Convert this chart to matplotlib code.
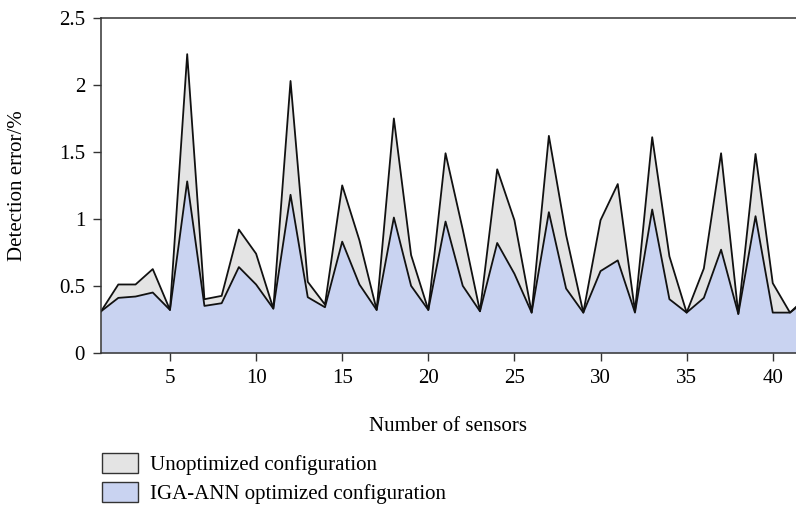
import matplotlib
matplotlib.use("Agg")
import matplotlib.pyplot as plt
from matplotlib.patches import Patch

# valeurs
sensors = list(range(1, 43))
unoptimized = [0.31, 0.51, 0.51, 0.625, 0.32, 2.23, 0.40, 0.425, 0.92, 0.74,
               0.33, 2.03, 0.53, 0.36, 1.25, 0.84, 0.32, 1.75, 0.73, 0.32,
               1.49, 0.92, 0.31, 1.37, 0.99, 0.30, 1.62, 0.88, 0.30, 0.99,
               1.26, 0.31, 1.61, 0.72, 0.30, 0.63, 1.49, 0.29, 1.485, 0.52,
               0.30, 0.42]
optimized = [0.31, 0.41, 0.42, 0.45, 0.32, 1.28, 0.35, 0.37, 0.64, 0.51,
             0.33, 1.18, 0.415, 0.34, 0.83, 0.51, 0.32, 1.01, 0.50, 0.32,
             0.98, 0.50, 0.31, 0.82, 0.59, 0.30, 1.05, 0.48, 0.30, 0.61,
             0.69, 0.30, 1.07, 0.40, 0.30, 0.41, 0.77, 0.29, 1.02, 0.30,
             0.30, 0.40]
labels = ["Unoptimized configuration", "IGA-ANN optimized configuration"]
xticks = [5, 10, 15, 20, 25, 30, 35, 40]
yticks = [0, 0.5, 1, 1.5, 2, 2.5]
yticklabels = ["0", "0.5", "1", "1.5", "2", "2.5"]

gray = "#e4e4e4"
blue = "#c9d3f1"

plt.rcParams['font.family'] = ['Liberation Serif', 'DejaVu Serif']
fs = 15

fig = plt.figure(figsize=(7.96, 5.15), dpi=100)
ax = fig.add_axes([0.127, 0.315, 0.873, 0.65])

ax.fill_between(sensors, 0, unoptimized, color=gray, lw=0)
ax.fill_between(sensors, 0, optimized, color=blue, lw=0)
ax.plot(sensors, unoptimized, color="#111111", lw=1.3)
ax.plot(sensors, optimized, color="#111111", lw=1.3)

ax.set_xlim(1, 41.35)
ax.set_ylim(0, 2.5)
ax.set_xticks(xticks)
ax.set_yticks(yticks)
ax.set_yticklabels(yticklabels)
ax.tick_params(labelsize=fs, length=5.5, width=1, color="#333333", pad=6)
for s in ["left", "bottom", "top"]:
    ax.spines[s].set_color("#333333")
    ax.spines[s].set_linewidth(1.1)
ax.spines["right"].set_visible(False)

fig.text(18 / 796, 0.64, "Detection error/%", fontsize=fs, rotation=90,
         ha="center", va="center")
fig.text(0.563, 0.172, "Number of sensors", fontsize=fs, ha="center", va="center")

handles = [Patch(facecolor=gray, edgecolor="#333333", lw=1),
           Patch(facecolor=blue, edgecolor="#333333", lw=1)]
fig.legend(handles, labels, loc="upper left", bbox_to_anchor=(0.118, 0.137),
           frameon=False, fontsize=fs, handlelength=1.7, handleheight=1.1,
           handletextpad=0.6, labelspacing=0.32, borderaxespad=0)

plt.savefig("out.png", dpi=100)
